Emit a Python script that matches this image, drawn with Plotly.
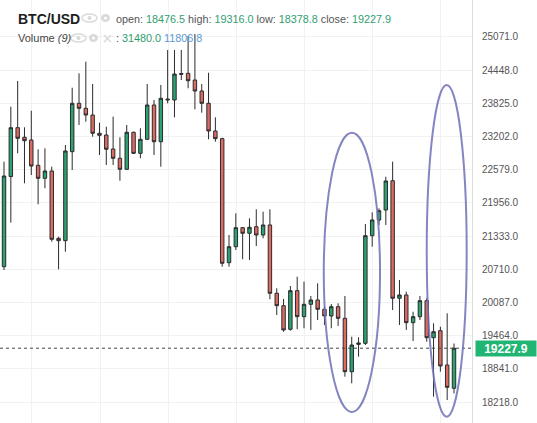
import plotly.graph_objects as go

# ---------------- data ----------------
symbol = "BTC/USD"
candle_index = list(range(68))
open_ = [20750, 20758, 22450, 23367, 23187, 23136, 22661, 22417, 22554, 21291,
         21246, 22917, 23825, 23731, 23605, 23262, 23230, 22967, 22793, 22586,
         23281, 22886, 23149, 23793, 23104, 23905, 23887, 24385, 24388, 24262,
         24056, 23825, 23305, 23161, 20833, 21133, 21490, 21385, 21509, 21353,
         21541, 20259, 20026, 19583, 20308, 19820, 20052, 20133, 19958, 19833,
         20007, 19789, 18787, 19300, 19320, 21340, 21635, 21822, 22372, 20165,
         20227, 19707, 19820, 20120, 19425, 19557, 18913, 18476.5]
high = [21300, 22729, 23761, 24244, 23375, 23686, 22962, 22980, 22635, 21321,
        23042, 24118, 24388, 24606, 24187, 23461, 23386, 23574, 23187, 23418,
        23292, 23356, 24187, 23887, 24169, 24826, 24826, 24826, 25088, 25126,
        24187, 24399, 23562, 23179, 21353, 21760, 21503, 21666, 21835, 21790,
        21835, 20353, 20152, 20396, 20570, 20477, 20208, 20446, 20007, 20058,
        20071, 20208, 19444, 19433, 21560, 21779, 21854, 22447, 22729, 20508,
        20289, 19913, 20208, 20165, 19696, 19632, 19883, 19316.0]
low = [20700, 20696, 21584, 22886, 22323, 22479, 21929, 22230, 21227, 20709,
       21040, 22573, 23418, 23480, 23198, 22855, 22667, 22667, 22372, 22573,
       22873, 22793, 23136, 22855, 22635, 23825, 23562, 24262, 24107, 23712,
       23649, 23149, 23104, 20758, 20758, 21071, 20897, 20884, 21147, 21291,
       20146, 19851, 19538, 19557, 19583, 19602, 19570, 19758, 19664, 19602,
       19645, 18693, 18569, 19069, 19288, 21133, 21541, 21541, 19945, 19664,
       19570, 19363, 19758, 19350, 18318, 18787, 18256, 18378.8]
close = [21230, 22460, 23367, 23168, 23123, 22648, 22417, 22554, 21272, 21246,
         22930, 23825, 23731, 23605, 23262, 23224, 22962, 22793, 22586, 23281,
         22886, 23149, 23793, 23104, 23919, 23890, 24375, 24370, 24249, 24056,
         23825, 23305, 23161, 20822, 21133, 21490, 21385, 21498, 21353, 21541,
         20259, 20026, 19570, 20308, 19820, 20052, 20133, 19958, 19833, 20007,
         19789, 18787, 19288, 19325, 21340, 21635, 21809, 22367, 20165, 20227,
         19707, 19820, 20120, 19425, 19538, 18894, 18494, 19227.9]
volume_label = "Volume"
volume_period = 9
volume_values = [31480.0, 11806.8]
price_ticks = [18218.0, 18841.0, 19464.0, 20087.0, 20710.0, 21333.0,
               21956.0, 22579.0, 23202.0, 23825.0, 24448.0, 25071.0]

# ---------------- style ----------------
GREEN = "#2ba271"
RED = "#dd6b62"
WICK = "#2b2b2b"
TXT_GREEN = "#2f9e6f"
TXT_BLUE = "#5b9bd5"
GRID = "#f1f1f1"
FONT = "Liberation Sans, Arial, sans-serif"
W, H = 537, 423
PLOT_W = 472


def px(x):
    return x / PLOT_W


def py(y):
    return 1 - y / H


fig = go.Figure(go.Candlestick(
    x=candle_index, open=open_, high=high, low=low, close=close,
    increasing=dict(fillcolor=GREEN, line=dict(color=WICK, width=1)),
    decreasing=dict(fillcolor=RED, line=dict(color=WICK, width=1)),
    whiskerwidth=0, hoverinfo="skip", showlegend=False,
))

shapes = []
# last-price dashed line
shapes.append(dict(type="line", xref="paper", x0=0, x1=1, yref="y",
                   y0=close[-1], y1=close[-1],
                   line=dict(color="#444", width=1, dash="3px,3px"), layer="above"))
# highlight ellipses
ELL = "rgba(112,112,184,0.85)"
shapes.append(dict(type="circle", xref="x", yref="y", x0=47.9, x1=56.15,
                   y0=18031, y1=23273, line=dict(color=ELL, width=2), layer="above"))
shapes.append(dict(type="circle", xref="x", yref="y", x0=63.0, x1=68.86,
                   y0=17943, y1=24169, line=dict(color=ELL, width=2), layer="above"))

# small header icons (eye / gear / close)
ICON = "#d9d9d9"


def eye(x0, x1, y0, y1):
    cx, cy = (x0 + x1) / 2, (y0 + y1) / 2
    shapes.append(dict(type="circle", xref="paper", yref="paper", x0=px(x0), x1=px(x1),
                       y0=py(y1), y1=py(y0), line=dict(color=ICON, width=1.5)))
    shapes.append(dict(type="circle", xref="paper", yref="paper", x0=px(cx - 2), x1=px(cx + 2),
                       y0=py(cy + 2), y1=py(cy - 2), fillcolor=ICON, line=dict(width=0)))


def gear(x0, x1, y0, y1):
    shapes.append(dict(type="circle", xref="paper", yref="paper", x0=px(x0), x1=px(x1),
                       y0=py(y1), y1=py(y0), fillcolor=ICON, line=dict(width=0)))
    cx, cy = (x0 + x1) / 2, (y0 + y1) / 2
    shapes.append(dict(type="circle", xref="paper", yref="paper", x0=px(cx - 1.5), x1=px(cx + 1.5),
                       y0=py(cy + 1.5), y1=py(cy - 1.5), fillcolor="white", line=dict(width=0)))


eye(82, 97, 14, 22)
gear(101, 110, 14, 22)
eye(71, 86, 34, 42)
gear(89, 98, 34, 42)
shapes.append(dict(type="line", xref="paper", yref="paper", x0=px(104), x1=px(111),
                   y0=py(35), y1=py(42), line=dict(color=ICON, width=1.5)))
shapes.append(dict(type="line", xref="paper", yref="paper", x0=px(104), x1=px(111),
                   y0=py(42), y1=py(35), line=dict(color=ICON, width=1.5)))


def g(v):
    return f"<span style='color:{TXT_GREEN}'>{v:.1f}</span>"


ohlc_text = (f"open: {g(open_[-1])} high: {g(high[-1])} "
             f"low: {g(low[-1])} close: {g(close[-1])}")
vol_text = (f": {g(volume_values[0])} "
            f"<span style='color:{TXT_BLUE}'>{volume_values[1]:.1f}</span>")

annotations = [
    dict(xref="paper", yref="paper", x=px(15.5), y=py(18.5), xanchor="left", yanchor="middle",
         text=f"<b>{symbol}</b>", showarrow=False, font=dict(family=FONT, size=14, color="#1e1e1e")),
    dict(xref="paper", yref="paper", x=px(114), y=py(18.5), xanchor="left", yanchor="middle",
         text=ohlc_text, showarrow=False, font=dict(family=FONT, size=10.8, color="#555")),
    dict(xref="paper", yref="paper", x=px(15.5), y=py(38.5), xanchor="left", yanchor="middle",
         text=f"{volume_label} <i>({volume_period})</i>", showarrow=False,
         font=dict(family=FONT, size=11, color="#444")),
    dict(xref="paper", yref="paper", x=px(114), y=py(38.5), xanchor="left", yanchor="middle",
         text=vol_text, showarrow=False, font=dict(family=FONT, size=10.8, color="#555")),
    # last price tag
    dict(xref="paper", yref="y", x=px(475), y=close[-1], xanchor="left", yanchor="middle",
         text=f"<b>{close[-1]:.1f}</b>", showarrow=False, bgcolor="#20b573",
         font=dict(family=FONT, size=12, color="white"), width=58, height=13, borderpad=1),
]

fig.update_layout(
    width=W, height=H,
    margin=dict(l=0, r=W - PLOT_W, t=0, b=0),
    paper_bgcolor="white", plot_bgcolor="white",
    boxgap=0.28,
    shapes=shapes, annotations=annotations,
    xaxis=dict(range=[0.41, 69.64], rangeslider=dict(visible=False),
               tickmode="array", tickvals=[5.08 + 10 * k for k in range(7)],
               showticklabels=False, ticks="", showgrid=True, gridcolor=GRID,
               zeroline=False, showline=False, fixedrange=True),
    yaxis=dict(side="right", range=[17824, 25764], tickmode="array",
               tickvals=price_ticks, ticktext=[f"{t:.1f}" for t in price_ticks],
               tickfont=dict(family=FONT, size=10, color="#555"),
               ticks="", ticklabelstandoff=7,
               showgrid=True, gridcolor=GRID, zeroline=False,
               showline=True, linecolor="#dcdcdc", linewidth=1, fixedrange=True),
    hovermode=False,
)

fig.write_html("out.html", config={"displayModeBar": False},
               post_script="document.body.style.margin='0';document.body.style.overflow='hidden';")
